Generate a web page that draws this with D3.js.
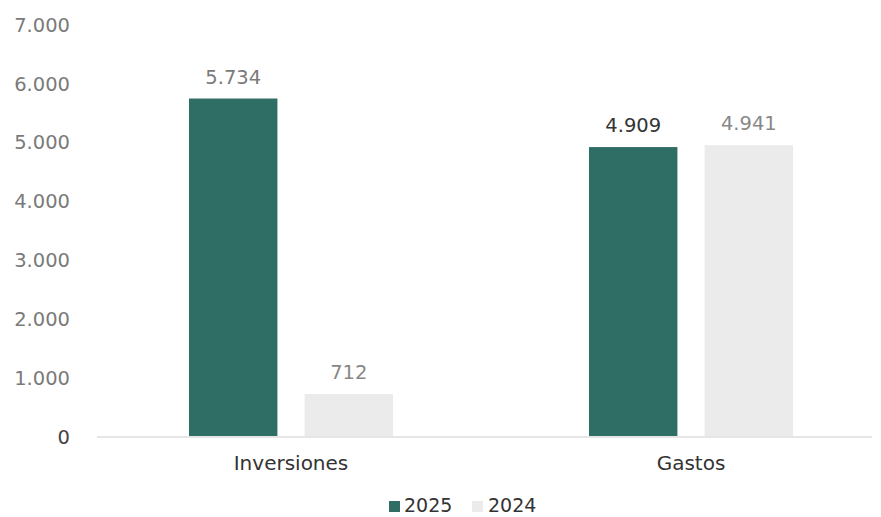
<!DOCTYPE html>
<html><head><meta charset="utf-8">
<script src="https://cdn.jsdelivr.net/npm/d3@7"></script>
<style>body{margin:0;background:#fff}svg{display:block}</style>
</head><body>
<svg id="c" width="881" height="517"></svg>
<script>
const categories = ["Inversiones", "Gastos"];
const seriesNames = ["2025", "2024"];
const values2025 = [5734, 4909];
const values2024 = [712, 4941];
const yTicks = [0, 1000, 2000, 3000, 4000, 5000, 6000, 7000];
const tickLabels = ["0", "1.000", "2.000", "3.000", "4.000", "5.000", "6.000", "7.000"];
const valueLabels2025 = ["5.734", "4.909"];
const valueLabels2024 = ["712", "4.941"];

const colors = ["#2f6e64", "#ebebeb"];
const labelColors2025 = ["#7a7a7a", "#333"];
const labelColors2024 = ["#888", "#888"];
const font = "DejaVu Sans, Verdana, sans-serif";

const svg = d3.select("#c");
const y = d3.scaleLinear().domain([0, 7000]).range([436, 24]);
const x0 = d3.scaleBand().domain(categories).range([91, 891]);
const x1 = d3.scaleBand().domain(seriesNames).range([98, 302]).paddingInner(0.235);

// baseline
svg.append("line").attr("x1", 97).attr("x2", 872).attr("y1", y(0)+1).attr("y2", y(0)+1)
  .attr("stroke", "#e6e6e6").attr("stroke-width", 2);

// y axis labels
const yAxis = d3.axisLeft(y).tickValues(yTicks).tickSize(0).tickPadding(0)
  .tickFormat((d,i) => tickLabels[i]);
const ga = svg.append("g").attr("transform", "translate(70,1)").call(yAxis);
ga.select(".domain").remove();
ga.selectAll("text").attr("font-family", font).attr("font-size", 19.5)
  .attr("fill", d => d === 0 ? "#444" : "#7a7a7a");

const series = [values2025, values2024];
const labels = [valueLabels2025, valueLabels2024];
const lcolors = [labelColors2025, labelColors2024];

categories.forEach((c, ci) => {
  seriesNames.forEach((s, si) => {
    const v = series[si][ci];
    const bx = x0(c) + x1(s);
    svg.append("rect").attr("x", bx).attr("y", y(v)).attr("width", x1.bandwidth())
      .attr("height", y(0) - y(v)).attr("fill", colors[si]);
    svg.append("text").attr("x", bx + x1.bandwidth()/2).attr("y", y(v) - 15)
      .attr("text-anchor", "middle").attr("font-family", font).attr("font-size", 19.5)
      .attr("fill", lcolors[si][ci]).text(labels[si][ci]);
  });
  svg.append("text").attr("x", x0(c) + x0.bandwidth()/2).attr("y", 470)
    .attr("text-anchor", "middle").attr("font-family", font).attr("font-size", 20)
    .attr("fill", "#333").text(c);
});

// legend
const legend = [{x: 389, tx: 404}, {x: 472, tx: 488}];
seriesNames.forEach((s, i) => {
  svg.append("rect").attr("x", legend[i].x).attr("y", 501).attr("width", 11).attr("height", 11)
    .attr("fill", colors[i]);
  svg.append("text").attr("x", legend[i].tx).attr("y", 512).attr("font-family", font)
    .attr("font-size", 19).attr("fill", "#333").text(s);
});
</script>
</body></html>
